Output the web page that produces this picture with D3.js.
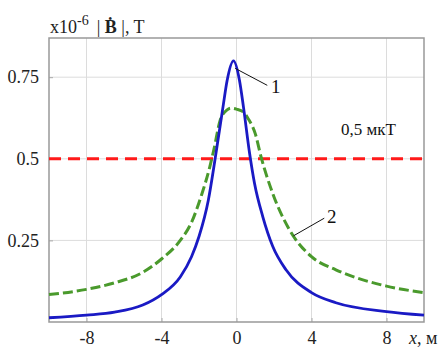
<!DOCTYPE html>
<html>
<head>
<meta charset="utf-8">
<script src="https://cdn.jsdelivr.net/npm/d3@7"></script>
<style>
  body { margin: 0; background: #fff; }
  svg { display: block; }
  svg text { font-family: "Liberation Serif", "Times New Roman", serif; }
</style>
</head>
<body>
<svg id="chart" width="444" height="349"></svg>
<script>
// x positions (m) where curves were read
const xs = [-10, -8, -6.5, -5, -4, -3, -2.4, -2, -1.5, -1.15, -0.72, -0.5, -0.16, 0.16, 0.37, 0.69, 0.96, 1.4, 1.93, 2.64, 4, 5.3, 8, 10];
// curve 1, |B| x1e-6 T
const curve1 = [0.013, 0.021, 0.030, 0.052, 0.084, 0.138, 0.20, 0.262, 0.374, 0.496, 0.659, 0.74, 0.80, 0.74, 0.659, 0.52, 0.425, 0.323, 0.232, 0.16, 0.09, 0.059, 0.032, 0.021];

// curve 2
const xs2 = [-10, -8, -6.5, -5, -4, -3, -2.4, -1.86, -1.42, -1.2, -0.87, -0.5, -0.3, 0, 0.4, 0.6, 1.0, 1.31, 1.93, 2.82, 4, 5.3, 8, 10];
const curve2 = [0.084, 0.10, 0.12, 0.152, 0.193, 0.25, 0.305, 0.39, 0.476, 0.53, 0.618, 0.65, 0.655, 0.652, 0.642, 0.625, 0.577, 0.506, 0.394, 0.283, 0.20, 0.16, 0.11, 0.09];

const threshold = 0.5;
const xTicks = [-8, -4, 0, 4, 8];
const yTicks = [0.25, 0.5, 0.75];

const margin = { top: 38, right: 20, bottom: 27, left: 49 };
const W = 444, H = 349;
const width = W - margin.left - margin.right;
const height = H - margin.top - margin.bottom;

const svg = d3.select("#chart");
const g = svg.append("g").attr("transform", `translate(${margin.left},${margin.top})`);

const x = d3.scaleLinear().domain([-10, 10]).range([0, width]);
const y = d3.scaleLinear().domain([0, 0.87]).range([height, 0]);

// grid
g.selectAll(".vgrid").data(xTicks).join("line")
  .attr("x1", d => x(d)).attr("x2", d => x(d))
  .attr("y1", 0).attr("y2", height)
  .attr("stroke", "#dcdcdc").attr("stroke-width", 1);
g.selectAll(".hgrid").data(yTicks).join("line")
  .attr("y1", d => y(d)).attr("y2", d => y(d))
  .attr("x1", 0).attr("x2", width)
  .attr("stroke", "#dcdcdc").attr("stroke-width", 1);

// axes
const xAxis = d3.axisBottom(x).tickValues(xTicks).tickSize(4).tickPadding(5).tickFormat(d => String(d));
const yAxis = d3.axisLeft(y).tickValues(yTicks).tickSize(4).tickPadding(6).tickFormat(d => String(d));

const xg = g.append("g").attr("transform", `translate(0,${height})`).call(xAxis);
const yg = g.append("g").call(yAxis);
[xg, yg].forEach(a => {
  a.attr("font-family", null);
  a.select(".domain").remove();
  a.selectAll(".tick line").attr("stroke", "#aaa");
  a.selectAll("text").attr("font-size", 18).attr("fill", "#222");
});
xg.selectAll(".tick line").attr("transform", "translate(0,-4)");
yg.selectAll(".tick line").attr("transform", "translate(4,0)");

// frame
g.append("rect").attr("x", 0).attr("y", 0).attr("width", width).attr("height", height)
  .attr("fill", "none").attr("stroke", "#999").attr("stroke-width", 1.5);

const line = d3.line().curve(d3.curveMonotoneX);

// threshold line
g.append("line")
  .attr("x1", x(-10)).attr("x2", x(10))
  .attr("y1", y(threshold)).attr("y2", y(threshold))
  .attr("stroke", "#ff1a1a").attr("stroke-width", 3)
  .attr("stroke-dasharray", "12,7");

// curve 2 (green dashed)
g.append("path")
  .attr("d", line(xs2.map((d, i) => [x(d), y(curve2[i])])))
  .attr("fill", "none").attr("stroke", "#4a9a2c").attr("stroke-width", 3)
  .attr("stroke-dasharray", "10,4");

// curve 1 (blue)
g.append("path")
  .attr("d", line(xs.map((d, i) => [x(d), y(curve1[i])])))
  .attr("fill", "none").attr("stroke", "#1a1ac4").attr("stroke-width", 2.8);

// annotations
g.append("line")
  .attr("x1", x(-0.07)).attr("y1", y(0.777)).attr("x2", x(1.64)).attr("y2", y(0.725))
  .attr("stroke", "#111").attr("stroke-width", 1);
g.append("text").attr("x", x(1.84)).attr("y", y(0.703))
  .attr("font-size", 19).attr("fill", "#111").text("1");

g.append("line")
  .attr("x1", x(3.04)).attr("y1", y(0.264)).attr("x2", x(4.68)).attr("y2", y(0.318))
  .attr("stroke", "#111").attr("stroke-width", 1);
g.append("text").attr("x", x(4.83)).attr("y", y(0.304))
  .attr("font-size", 19).attr("fill", "#111").text("2");

g.append("text").attr("x", x(5.57)).attr("y", y(0.572))
  .attr("font-size", 17).attr("fill", "#111").text("0,5 мкТ");

// y unit label
const t = svg.append("text").attr("x", 50).attr("y", 33).attr("font-size", 18).attr("fill", "#222");
t.append("tspan").text("x10");
t.append("tspan").attr("dy", -8).attr("font-size", 14).text("-6");
t.append("tspan").attr("dy", 8).attr("dx", 8).text("| ");
t.append("tspan").attr("font-weight", "bold").text("Ḃ");
t.append("tspan").text(" |, T");

// x unit label
const xl = svg.append("text").attr("x", 409).attr("y", 344).attr("font-size", 18).attr("fill", "#222");
xl.append("tspan").attr("font-style", "italic").text("x");
xl.append("tspan").text(", м");
</script>
</body>
</html>
